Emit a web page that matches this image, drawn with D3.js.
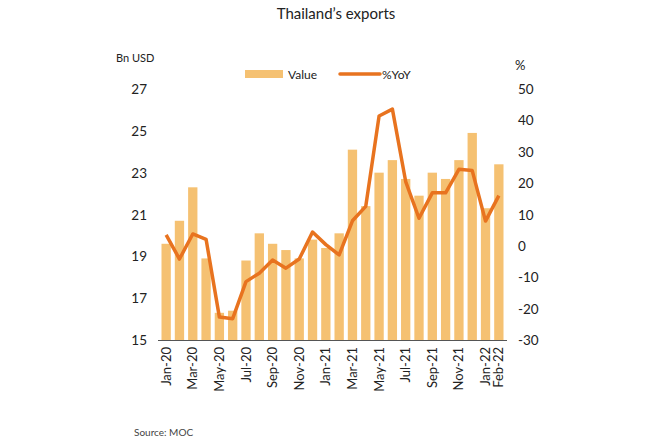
<!DOCTYPE html>
<html>
<head>
<meta charset="utf-8">
<script src="https://cdn.jsdelivr.net/npm/d3@7"></script>
<style>
  body { margin: 0; background: #fff; }
  text { font-family: Lato, "Open Sans", sans-serif; fill: #222; }
</style>
</head>
<body>
<script>
// Exportations mensuelles (Mds USD) et croissance annuelle (%)
const months = ["Jan-20","Feb-20","Mar-20","Apr-20","May-20","Jun-20","Jul-20","Aug-20","Sep-20","Oct-20","Nov-20","Dec-20",
  "Jan-21","Feb-21","Mar-21","Apr-21","May-21","Jun-21","Jul-21","Aug-21","Sep-21","Oct-21","Nov-21","Dec-21",
  "Jan-22","Feb-22"];
const values = [19.6, 20.7, 22.3, 18.9, 16.3, 16.4, 18.8, 20.1, 19.6, 19.3, 18.9, 19.8,
  19.4, 20.1, 24.1, 21.4, 23.0, 23.6, 22.7, 21.9, 23.0, 22.7, 23.6, 24.9, 21.3, 23.4];
const yoy = [3.5, -4.2, 3.8, 2.1, -22.7, -23.2, -11.4, -8.7, -4.5, -7.1, -4.2, 4.4,
  0.4, -2.9, 8.0, 12.6, 41.4, 43.6, 20.5, 8.8, 16.9, 16.9, 24.4, 24.0, 7.9, 16.0];
const leftTicks = [15, 17, 19, 21, 23, 25, 27];
const rightTicks = [-30, -20, -10, 0, 10, 20, 30, 40, 50];
const xLabels = ["Jan-20","Mar-20","May-20","Jul-20","Sep-20","Nov-20","Jan-21","Mar-21","May-21","Jul-21","Sep-21","Nov-21","Jan-22","Feb-22"];

const W = 670, H = 447;
const svg = d3.select("body").append("svg")
    .attr("width", W)
    .attr("height", H);

let x = d3.scaleBand()
    .domain(months)
    .range([159.5, 505.5])
    .paddingInner(0.3)
    .paddingOuter(0.15);

let y = d3.scaleLinear().domain([15, 27]).range([340, 89]);
let y2 = d3.scaleLinear().domain([-30, 50]).range([340, 89]);

// barres
svg.append("g")
    .selectAll("rect")
    .data(values)
    .join("rect")
    .attr("x", (d, i) => x(months[i]))
    .attr("width", x.bandwidth())
    .attr("y", d => y(d))
    .attr("height", d => y(15) - y(d))
    .attr("fill", "#F5C172");

// ligne %YoY
const line = d3.line()
    .x((d, i) => x(months[i]) + x.bandwidth() / 2)
    .y(d => y2(d));

svg.append("path")
    .datum(yoy)
    .attr("d", line)
    .attr("fill", "none")
    .attr("stroke", "#E8731F")
    .attr("stroke-width", 3.5)
    .attr("stroke-linejoin", "round");

// axe du bas
svg.append("line")
    .attr("x1", 158).attr("x2", 507)
    .attr("y1", 340.5).attr("y2", 340.5)
    .attr("stroke", "#555").attr("stroke-width", 1);

svg.append("g")
    .selectAll("text")
    .data(xLabels)
    .join("text")
    .attr("transform", d => "translate(" + (x(d) + x.bandwidth() / 2 + 4.5) + ",347) rotate(-90)")
    .attr("text-anchor", "end")
    .style("font-size", "13px")
    .text(d => d);

// axe gauche
svg.append("g")
    .selectAll("text")
    .data(leftTicks)
    .join("text")
    .attr("x", 147)
    .attr("y", d => y(d) + 5)
    .attr("text-anchor", "end")
    .style("font-size", "13.5px")
    .text(d => d);

// axe droit
svg.append("g")
    .selectAll("text")
    .data(rightTicks)
    .join("text")
    .attr("x", 518)
    .attr("y", d => y2(d) + 5)
    .attr("text-anchor", "start")
    .style("font-size", "13.5px")
    .text(d => d);

svg.append("text")
    .attr("x", 116).attr("y", 62)
    .style("font-size", "11px")
    .text("Bn USD");

svg.append("text")
    .attr("x", 515).attr("y", 70)
    .style("font-size", "13px")
    .text("%");

// titre
svg.append("text")
    .attr("x", 336).attr("y", 19)
    .attr("text-anchor", "middle")
    .style("font-size", "15px")
    .text("Thailand\u2019s exports");

// légende
svg.append("rect")
    .attr("x", 245).attr("y", 70)
    .attr("width", 38).attr("height", 8)
    .attr("fill", "#F5C172");
svg.append("text")
    .attr("x", 288).attr("y", 79)
    .style("font-size", "12px")
    .text("Value");
svg.append("line")
    .attr("x1", 340).attr("x2", 380)
    .attr("y1", 74).attr("y2", 74)
    .attr("stroke", "#E8731F").attr("stroke-width", 3.5)
    .attr("stroke-linecap", "round");
svg.append("text")
    .attr("x", 382).attr("y", 79)
    .style("font-size", "12px")
    .text("%YoY");

// source
svg.append("text")
    .attr("x", 134).attr("y", 436)
    .style("font-size", "10px")
    .style("fill", "#444")
    .text("Source: MOC");
</script>
</body>
</html>
